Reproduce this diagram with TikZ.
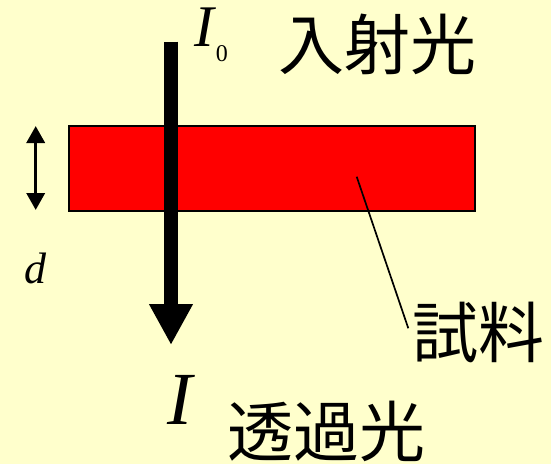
\documentclass[tikz,border=0pt]{standalone}
\usepackage{fontspec}
\setmainfont{Liberation Serif}
\newfontfamily\jpfont{Noto Sans CJK JP}
\usetikzlibrary{arrows.meta}

\newcommand*{\picw}{551}
\newcommand*{\pich}{464}

\definecolor{paper}{HTML}{FFFFCC}
\definecolor{samplered}{HTML}{FF0000}

\begin{document}
\begin{tikzpicture}
[
	x=1pt,y=-1pt,
	sample/.style={rectangle,draw=black,line width=2pt,fill=samplered,minimum width=406pt,minimum height=85pt,inner sep=0pt},
	beam/.style={line width=13.7pt,-{Triangle[width=41pt,length=41pt]}},
	gauge/.style={line width=3.5pt,{Triangle[width=18pt,length=17pt]}-{Triangle[width=18pt,length=17pt]}},
	leader/.style={line width=1.7pt},
	jlabel/.style={inner sep=0pt,font=\jpfont\fontsize{66}{66}\selectfont},
	symb/.style={inner sep=0pt}
]

	% background
	\fill[paper] (0,0) rectangle (\picw,\pich);
	\useasboundingbox (0,0) rectangle (\picw,\pich);

	% sample slab
	\node[sample] (slab) at (272.2,168.4) {};

	% light beam
	\coordinate (beamtop) at (171,41.7);
	\coordinate (beamend) at (171,345);
	\draw[beam] (beamtop) -- (beamend);

	% thickness
	\coordinate (dtop) at (35.7,126);
	\coordinate (dbot) at (35.7,210);
	\draw[gauge] (dtop) -- (dbot);
	\node[symb,font=\itshape\fontsize{44}{44}\selectfont] (dlabel) at (35,268.5) {d};

	% labels
	\node[symb,anchor=base west] (Izero) at (194,46)
	  {\fontsize{59}{59}\selectfont\itshape I\kern2pt\raisebox{-15pt}{\fontsize{24}{24}\selectfont\upshape 0}};
	\node[symb,font=\itshape\fontsize{75}{75}\selectfont] (Iout) at (179.5,400) {I};
	\node[jlabel] (incident) at (377.5,44.2) {入射光};
	\node[jlabel] (transmit) at (326.5,431.5) {透過光};
	\node[jlabel] (samplelabel) at (478,332) {試料};

	% leader to sample
	\coordinate (leadstart) at (356.7,176.7);
	\coordinate (leadend) at (408.3,328.3);
	\draw[leader] (leadstart) -- (leadend);

\end{tikzpicture}
\end{document}
